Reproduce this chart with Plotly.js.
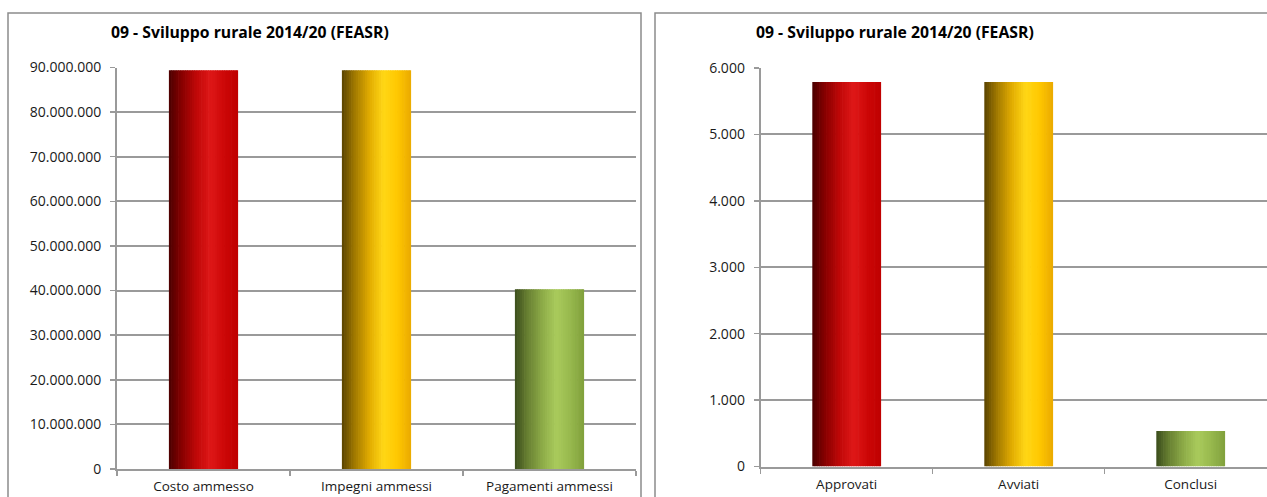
<!DOCTYPE html>
<html>
<head>
<meta charset="utf-8">
<script src="https://cdn.plot.ly/plotly-3.0.1.min.js"></script>
<style>
html,body{margin:0;padding:0;overflow:hidden;background:#fff;}
#chart{width:1290px;height:497px;}
</style>
</head>
<body>
<div id="chart"></div>
<script>
// ---- data ----
const chartTitle = '09 - Sviluppo rurale 2014/20 (FEASR)';
const leftCategories = ['Costo ammesso', 'Impegni ammessi', 'Pagamenti ammessi'];
const leftValues = [89400000, 89400000, 40300000];
const rightCategories = ['Approvati', 'Avviati', 'Conclusi'];
const rightValues = [5790, 5790, 535];

// ---- styling ----
const W = 1290, H = 497;
const px = v => v / W;
const py = v => (H - v) / H;
const palettes = [
  [[0,'#4a0000'],[0.18,'#860000'],[0.4,'#c00808'],[0.6,'#de1818'],[0.8,'#cc0606'],[1,'#bf0000']],
  [[0,'#5a4300'],[0.18,'#a07800'],[0.4,'#e2ac00'],[0.6,'#ffd716'],[0.8,'#ffc800'],[1,'#eaa900']],
  [[0,'#3b4d1c'],[0.18,'#677f32'],[0.4,'#8eac48'],[0.6,'#a9ca5c'],[0.8,'#97b84d'],[1,'#80a03c']]
];
function hex2rgb(h){return [parseInt(h.slice(1,3),16),parseInt(h.slice(3,5),16),parseInt(h.slice(5,7),16)];}
function grad(stops,t){
  for(let i=0;i<stops.length-1;i++){
    const [a,ca]=stops[i],[b,cb]=stops[i+1];
    if(t>=a&&t<=b){
      const f=(t-a)/(b-a),A=hex2rgb(ca),B=hex2rgb(cb);
      return 'rgb('+A.map((v,k)=>Math.round(v+(B[k]-v)*f)).join(',')+')';
    }
  }
  return stops[stops.length-1][1];
}
const N = 30, BW = 0.40;
const traces = [];
function addBars(cats, vals, xa, ya){
  for(let i=0;i<N;i++){
    const t=(i+0.5)/N;
    traces.push({
      type:'bar', x:cats, y:vals, xaxis:xa, yaxis:ya,
      width: cats.map(()=> i===N-1 ? BW/N : BW/N*1.3),
      offset: cats.map(()=> -BW/2 + i*BW/N),
      marker:{color: cats.map((c,k)=>grad(palettes[k],t)), line:{width:0}},
      hoverinfo:'skip', showlegend:false
    });
  }
}
addBars(leftCategories, leftValues, 'x', 'y');
addBars(rightCategories, rightValues, 'x2', 'y2');

const fam = '"Open Sans", "Noto Sans", sans-serif';
const yFont = {family:fam, size:14, color:'#1a1a1a'};
const xFont = {family:fam, size:13.5, color:'#1a1a1a'};
const gridC = '#9a9a9a';
const xCommon = {type:'category', showline:true, linecolor:gridC, linewidth:2, ticks:'outside', ticklen:5, tickcolor:gridC, tickwidth:1.5, tickson:'boundaries', showgrid:false, zeroline:false, range:[-0.5,2.5], fixedrange:true, ticklabelstandoff:4, tickfont:xFont};
const yCommon = {showline:true, linecolor:gridC, linewidth:2, ticks:'outside', ticklen:5, tickcolor:gridC, tickwidth:1.5, showgrid:true, gridcolor:gridC, gridwidth:2, zeroline:false, tickformat:',d', fixedrange:true, ticklabelstandoff:6, tickfont:yFont};

const layout = {
  width:W, height:H, margin:{l:0,r:0,t:0,b:0},
  paper_bgcolor:'#fff', plot_bgcolor:'rgba(0,0,0,0)',
  separators:',.', barmode:'overlay', showlegend:false, font:yFont,
  xaxis: Object.assign({}, xCommon, {domain:[px(117), px(636)], anchor:'y'}),
  yaxis: Object.assign({}, yCommon, {domain:[py(469), py(67.5)], range:[0,90000000], dtick:10000000, anchor:'x'}),
  xaxis2: Object.assign({}, xCommon, {domain:[px(760.7), px(1276.7)], anchor:'y2'}),
  yaxis2: Object.assign({}, yCommon, {domain:[py(466.5), py(68)], range:[0,6000], dtick:1000, anchor:'x2'}),
  annotations:[
    {text:'<b>'+chartTitle+'</b>', xref:'paper', yref:'paper', x:px(109), y:py(32), xanchor:'left', yanchor:'middle', showarrow:false, font:{family:fam, size:15.75, color:'#000'}},
    {text:'<b>'+chartTitle+'</b>', xref:'paper', yref:'paper', x:px(754), y:py(32), xanchor:'left', yanchor:'middle', showarrow:false, font:{family:fam, size:15.75, color:'#000'}}
  ],
  shapes:[
    {type:'rect', xref:'paper', yref:'paper', x0:px(8), x1:px(641), y0:-0.1, y1:py(13), line:{color:'#8c8c8c', width:1.5}, fillcolor:'rgba(0,0,0,0)', layer:'below'},
    {type:'rect', xref:'paper', yref:'paper', x0:px(655), x1:1.1, y0:-0.1, y1:py(13), line:{color:'#8c8c8c', width:1.5}, fillcolor:'rgba(0,0,0,0)', layer:'below'}
  ]
};
Plotly.newPlot('chart', traces, layout, {displayModeBar:false, staticPlot:true});
</script>
</body>
</html>
